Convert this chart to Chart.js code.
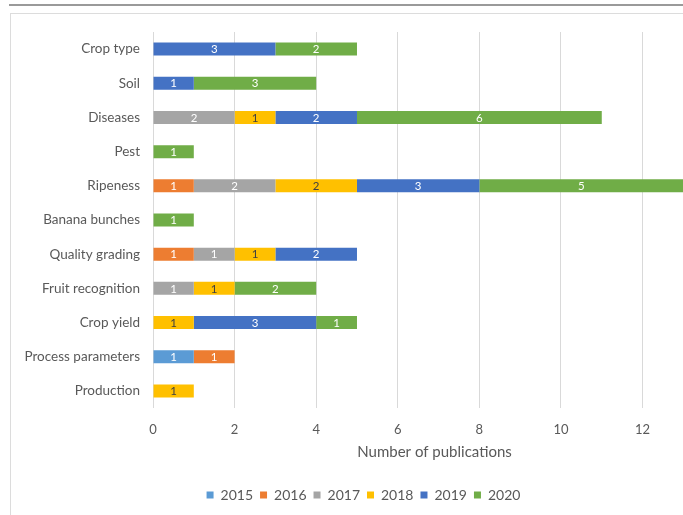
<!DOCTYPE html>
<html>
<head>
<meta charset="utf-8">
<script src="https://cdn.jsdelivr.net/npm/chart.js@4/dist/chart.umd.min.js"></script>
<style>
  html, body { margin: 0; padding: 0; background: #fff; overflow: hidden; width: 683px; height: 515px; }
  #topline { position: absolute; left: 9px; top: 4px; width: 700px; height: 2px; background: #9a9a9a; }
  #frame { position: absolute; left: 10px; top: 13px; width: 720px; height: 520px; border-left: 1px solid #dcdcdc; border-top: 1px solid #dcdcdc; }
  #wrap { position: absolute; left: 11px; top: 14px; width: 705px; height: 501px; }
</style>
</head>
<body>
<div id="topline"></div>
<div id="frame"></div>
<div id="wrap"><canvas id="c"></canvas></div>
<script>
const categories = ["Crop type", "Soil", "Diseases", "Pest", "Ripeness", "Banana bunches",
  "Quality grading", "Fruit recognition", "Crop yield", "Process parameters", "Production"];
const years = ["2015", "2016", "2017", "2018", "2019", "2020"];
const y2015 = [0, 0, 0, 0, 0, 0, 0, 0, 0, 1, 0];
const y2016 = [0, 0, 0, 0, 1, 0, 1, 0, 0, 1, 0];
const y2017 = [0, 0, 2, 0, 2, 0, 1, 1, 0, 0, 0];
const y2018 = [0, 0, 1, 0, 2, 0, 1, 1, 1, 0, 1];
const y2019 = [3, 1, 2, 0, 3, 0, 2, 0, 3, 0, 0];
const y2020 = [2, 3, 6, 1, 5, 1, 0, 2, 1, 0, 0];
const xTickStep = 2;
const xTitle = "Number of publications";

const colors = ["#5B9BD5", "#ED7D31", "#A5A5A5", "#FFC000", "#4472C4", "#70AD47"];
const labelColors = ["#ffffff", "#ffffff", "#ffffff", "#404040", "#ffffff", "#ffffff"];
const series = [y2015, y2016, y2017, y2018, y2019, y2020];

const dataLabels = {
  id: 'dataLabels',
  afterDatasetsDraw(chart) {
    const ctx = chart.ctx;
    ctx.save();
    ctx.font = '11.5px Lato';
    ctx.textAlign = 'center';
    ctx.textBaseline = 'middle';
    chart.data.datasets.forEach((ds, di) => {
      const meta = chart.getDatasetMeta(di);
      meta.data.forEach((bar, i) => {
        const v = ds.data[i];
        if (!v) return;
        const p = bar.getProps(['x', 'y', 'base'], true);
        ctx.fillStyle = labelColors[di];
        ctx.fillText(String(v), (p.x + p.base) / 2, p.y + 0.5);
      });
    });
    ctx.restore();
  }
};

new Chart(document.getElementById('c'), {
  type: 'bar',
  data: {
    labels: categories,
    datasets: years.map((y, i) => ({
      label: y,
      data: series[i],
      backgroundColor: colors[i],
      borderWidth: 0,
      categoryPercentage: 1,
      barPercentage: 0.38
    }))
  },
  options: {
    indexAxis: 'y',
    responsive: true,
    maintainAspectRatio: false,
    animation: false,
    layout: { padding: { top: 18, right: 0, left: 0, bottom: 3 } },
    plugins: {
      legend: {
        position: 'bottom',
        labels: {
          boxWidth: 7, boxHeight: 7, padding: 7,
          color: '#595959',
          font: { family: 'Lato', size: 14 }
        }
      },
      tooltip: { enabled: false }
    },
    scales: {
      x: {
        stacked: true,
        min: 0,
        max: 13.8,
        grid: { color: '#d9d9d9', drawTicks: false },
        border: { display: false },
        ticks: {
          stepSize: xTickStep,
          includeBounds: false,
          padding: 14,
          color: '#595959',
          font: { family: 'Lato', size: 13 }
        },
        title: {
          display: true,
          text: xTitle,
          color: '#595959',
          font: { family: 'Lato', size: 15 },
          padding: { top: 0, bottom: 20 }
        },
        afterFit(scale) { scale.height = 73; scale.paddingLeft = 0; scale.paddingRight = 0; }
      },
      y: {
        stacked: true,
        grid: { display: false, drawTicks: false },
        border: { display: false },
        ticks: {
          padding: 13,
          color: '#595959',
          font: { family: 'Lato', size: 13.5 }
        },
        afterFit(scale) { scale.width = 142; scale.paddingTop = 0; scale.paddingBottom = 0; }
      }
    }
  },
  plugins: [dataLabels]
});
</script>
</body>
</html>
